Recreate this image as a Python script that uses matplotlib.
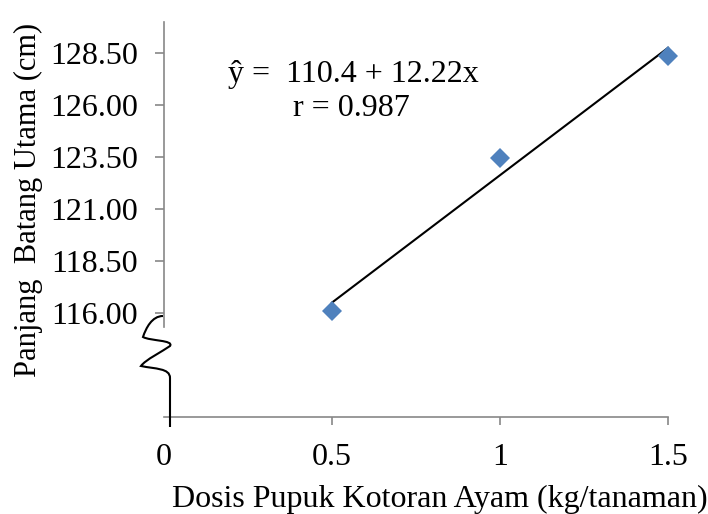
import matplotlib
matplotlib.use("Agg")
import matplotlib.pyplot as plt
import numpy as np
from matplotlib.path import Path
from matplotlib.patches import PathPatch

# Data
dose = [0.5, 1.0, 1.5]
length = [116.11, 123.44, 128.35]
intercept = 110.4
slope = 12.22
y_ticks = [116.00, 118.50, 121.00, 123.50, 126.00, 128.50]
x_ticks = [0, 0.5, 1, 1.5]
x_tick_labels = ["0", "0.5", "1", "1.5"]
eq_text = "ŷ =  110.4 + 12.22x"
r_text = "r = 0.987"

W, H = 708, 514
plt.rcParams['font.family'] = ['Liberation Serif', 'DejaVu Serif']
fig = plt.figure(figsize=(W / 100, H / 100), dpi=100)
L, R, T, B = 164, 668, 22, 417
ax = fig.add_axes([L / W, 1 - B / H, (R - L) / W, (B - T) / H])

gray = '#878787'
fs = 23
ax.set_xlim(0, 1.5)
ax.set_ylim(111.02, 129.97)

# regression line
xl = np.array([dose[0], dose[-1]])
ax.plot(xl, intercept + slope * xl, color='black', lw=1.5, zorder=2, clip_on=False)
ax.plot(dose, length, linestyle='none', marker='D', markersize=9.7,
        color='#4F81BD', markeredgewidth=0, zorder=3, clip_on=False)

for s in ['top', 'right']:
    ax.spines[s].set_visible(False)
ax.spines['left'].set_color(gray)
ax.spines['bottom'].set_color(gray)
ax.spines['left'].set_linewidth(1.2)
ax.spines['bottom'].set_linewidth(1.2)
ax.spines['left'].set_bounds(115.36, 129.97)

ax.set_yticks(y_ticks)
ax.set_yticklabels([f"{v:.2f}" for v in y_ticks])
ax.set_xticks(x_ticks)
ax.set_xticklabels(x_tick_labels)
ax.tick_params(axis='y', direction='out', length=6.5, width=1.2, color=gray,
               labelsize=fs, pad=12)
ax.tick_params(axis='x', direction='out', length=6, width=1.2, color=gray,
               labelsize=fs, pad=13)
ax.xaxis.get_major_ticks()[0].tick1line.set_visible(False)

ax.set_ylabel("Panjang  Batang Utama (cm)", fontsize=22, labelpad=5)
ax.yaxis.label.set_y(0.549)
ax.set_xlabel("Dosis Pupuk Kotoran Ayam (kg/tanaman)", fontsize=fs, labelpad=9)
ax.xaxis.label.set_x(0.548)

ax.text(0.19, 127.45, eq_text, fontsize=fs, va='center', ha='left')
ax.text(0.385, 125.8, r_text, fontsize=fs, va='center', ha='left')

# axis break squiggle (decoration), in figure pixel coordinates
def fp(x, y):
    return (x / W, 1 - y / H)

verts = [fp(163, 316),
         fp(152, 316), fp(146, 328), fp(143, 337),
         fp(150, 341), fp(174, 340), fp(170, 346),
         fp(163, 351), fp(145, 360), fp(141, 366),
         fp(155, 369), fp(170, 368), fp(170, 378),
         fp(170, 427)]
codes = [Path.MOVETO,
         Path.CURVE4, Path.CURVE4, Path.CURVE4,
         Path.CURVE4, Path.CURVE4, Path.CURVE4,
         Path.CURVE4, Path.CURVE4, Path.CURVE4,
         Path.CURVE4, Path.CURVE4, Path.CURVE4,
         Path.LINETO]
patch = PathPatch(Path(verts, codes), transform=fig.transFigure,
                  facecolor='none', edgecolor='black', lw=1.5, clip_on=False)
fig.patches.append(patch)

fig.savefig("out.png", dpi=100)
